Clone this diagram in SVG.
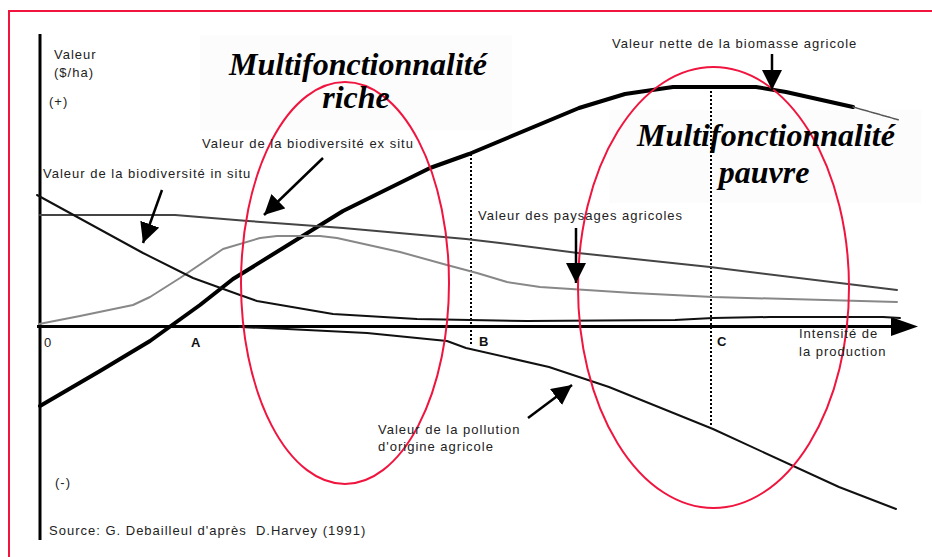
<svg xmlns="http://www.w3.org/2000/svg" width="932" height="557" viewBox="0 0 932 557">
<style>
.lbl{font-family:"Liberation Sans",Arial,sans-serif;font-size:13px;letter-spacing:1px;fill:#222;white-space:pre}
.bold{font-family:"Liberation Sans",Arial,sans-serif;font-size:13px;font-weight:bold;fill:#111}
.title{font-family:"Liberation Serif","Times New Roman",serif;font-size:32px;font-weight:bold;font-style:italic;fill:#000}
.ell{fill:none;stroke:#f0153f;stroke-width:2}
.curve{fill:none;stroke-linejoin:round;stroke-linecap:round}
.ptr{stroke:#000;stroke-width:2.5;fill:none;marker-end:url(#head)}
.drop{stroke:#000;stroke-width:2;stroke-dasharray:2,2;fill:none}
</style>
<defs>
<marker id="head" markerUnits="userSpaceOnUse" markerWidth="22" markerHeight="22" refX="20" refY="10" orient="auto">
<path d="M0,0 L20,10 L0,20 Z" fill="#000"/>
</marker>
</defs>
<rect width="932" height="557" fill="#fff"/>
<rect x="9" y="11" width="940" height="560" fill="none" stroke="#f0153f" stroke-width="2"/>
<g id="title-bg">
<rect x="200" y="35" width="312" height="95" fill="#fcfcfc"/>
<rect x="609" y="110" width="312" height="93" fill="#fcfcfc"/>
</g>
<g id="axes">
<line x1="40" y1="34" x2="40" y2="540" stroke="#000" stroke-width="3"/>
<line x1="37" y1="326.5" x2="895" y2="326.5" stroke="#000" stroke-width="3"/>
<path d="M891,317 L918,326.5 L891,336 Z" fill="#000"/>
</g>
<g id="drop-lines">
<line class="drop" x1="471" y1="154" x2="471" y2="346"/>
<line class="drop" x1="711" y1="87" x2="711" y2="425"/>
</g>
<g id="curves">
<path id="biomasse" class="curve" stroke="#000" stroke-width="4" d="M40,406 L100,371 L150,341 L200,305 L233,279 L343,211 L430,168 L469,154 L579,108 L625,94 L673,87 L756,87 L786,92 L853,107"/>
<path class="curve" stroke="#555" stroke-width="1.5" stroke-dasharray="2,1" d="M853,107 L899,120"/>
<path id="paysages" class="curve" stroke="#444" stroke-width="2" d="M40,215 L175,215 L248,221 L343,228 L466,239 L500,243 L578,253 L710,267 L897,290"/>
<path id="exsitu" class="curve" stroke="#888" stroke-width="2" d="M39,324 L80,316 L133,305 L150,297 L180,278 L223,249 L260,238 L277,236 L320,236 L337,238 L400,252 L447,265 L477,273 L507,282 L540,287 L633,293 L713,297 L897,302"/>
<path id="insitu" class="curve" stroke="#111" stroke-width="2" d="M37,195 L143,253 L193,278 L240,295 L257,301 L333,314 L417,319 L470,320 L527,321 L675,320 L713,318 L770,317 L883,317 L900,318"/>
<path id="pollution" class="curve" stroke="#111" stroke-width="2" d="M240,327 L287,329 L367,333 L447,341 L466,348 L549,367 L609,387 L713,429 L839,487 L896,509"/>
</g>
<g id="ellipses">
<ellipse class="ell" cx="345" cy="283" rx="104" ry="201"/>
<ellipse class="ell" cx="713.5" cy="287.5" rx="135.5" ry="220.5"/>
</g>
<g id="connectors">
<line class="ptr" x1="162" y1="190" x2="143" y2="243"/>
<line class="ptr" x1="323" y1="158" x2="264" y2="215"/>
<line class="ptr" x1="772" y1="54" x2="772" y2="90"/>
<line class="ptr" x1="576" y1="228" x2="576" y2="283"/>
<line class="ptr" x1="528" y1="418" x2="572" y2="385"/>
</g>
<g id="labels">
<text class="lbl" x="54" y="59">Valeur</text>
<text class="lbl" x="54" y="77">($/ha)</text>
<text class="lbl" x="49" y="106">(+)</text>
<text class="lbl" x="55" y="487">(-)</text>
<text class="lbl" x="44" y="347">0</text>
<text class="bold" x="191" y="347">A</text>
<text class="bold" x="479" y="346">B</text>
<text class="bold" x="717" y="346">C</text>
<text class="lbl" x="799" y="338">Intensité de</text>
<text class="lbl" x="799" y="356">la production</text>
<text class="lbl" x="378" y="434">Valeur de la pollution</text>
<text class="lbl" x="378" y="451">d'origine agricole</text>
<text class="lbl" x="612" y="48">Valeur nette de la biomasse agricole</text>
<text class="lbl" x="202" y="148">Valeur de la biodiversité ex situ</text>
<text class="lbl" x="43" y="178">Valeur de la biodiversité in situ</text>
<text class="lbl" x="478" y="220">Valeur des paysages agricoles</text>
<text class="lbl" x="49" y="535" xml:space="preserve">Source: G. Debailleul d'après  D.Harvey (1991)</text>
</g>
<g id="titles">
<text class="title" x="358" y="75" text-anchor="middle">Multifonctionnalité</text>
<text class="title" x="356" y="108" text-anchor="middle">riche</text>
<text class="title" x="766" y="146" text-anchor="middle">Multifonctionnalité</text>
<text class="title" x="764" y="183" text-anchor="middle">pauvre</text>
</g>
</svg>
